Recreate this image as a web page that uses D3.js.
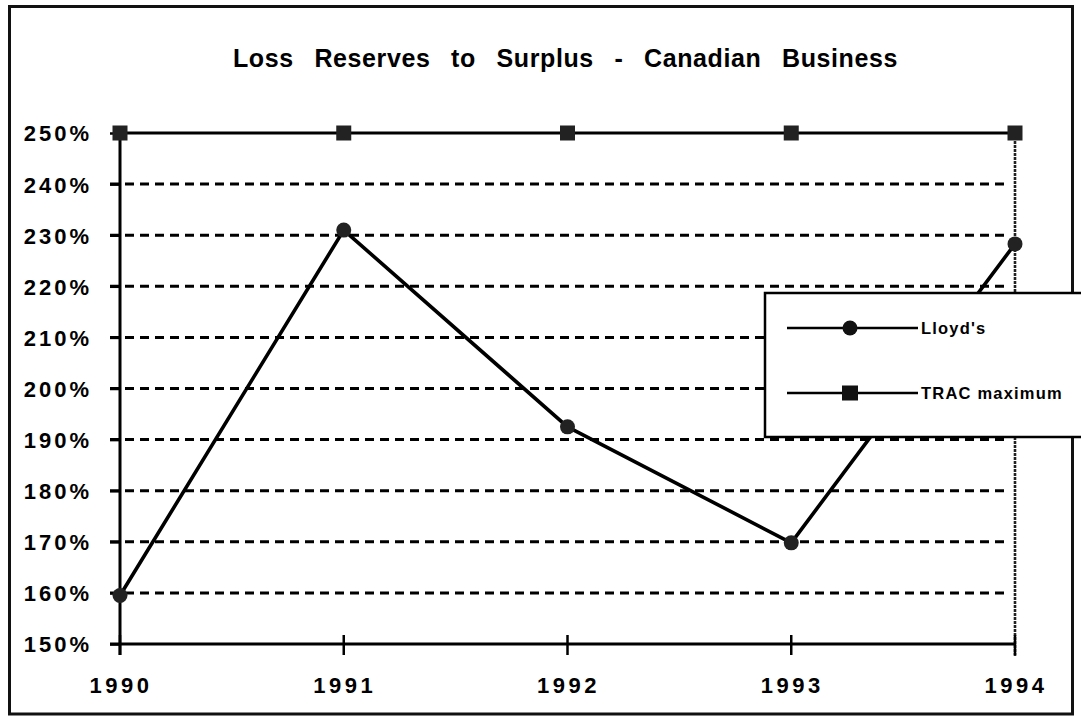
<!DOCTYPE html>
<html>
<head>
<meta charset="utf-8">
<script src="https://cdn.jsdelivr.net/npm/d3@7"></script>
<style>
  html, body { margin: 0; padding: 0; background: #fff; }
  svg { display: block; }
  text { font-family: "Liberation Sans", Arial, Helvetica, sans-serif; fill: #000; }
</style>
</head>
<body>
<svg id="chart" width="1081" height="718"></svg>
<script>
const title = "Loss Reserves to Surplus - Canadian Business";
const years = [1990, 1991, 1992, 1993, 1994];
const lloyds = [159.5, 231, 192.5, 169.8, 228.3];
const tracMax = [250, 250, 250, 250, 250];
const yTicks = [150, 160, 170, 180, 190, 200, 210, 220, 230, 240, 250];
const gridValues = [160, 170, 180, 190, 200, 210, 220, 230, 240];
const seriesNames = ["Lloyd's", "TRAC maximum"];

const svg = d3.select("#chart");
const x = d3.scaleLinear().domain([1990, 1994]).range([120, 1015]);
const y = d3.scaleLinear().domain([150, 250]).range([644, 133]);

// outer frame
svg.append("rect").attr("x", 9.5).attr("y", 6.5).attr("width", 1063).attr("height", 707.5)
  .attr("fill", "#fff").attr("stroke", "#111").attr("stroke-width", 3);

// title
const t = svg.append("text").attr("x", 233).attr("y", 67)
  .attr("font-size", 25).attr("font-weight", "bold").attr("letter-spacing", 0.6).text(title);
const w0 = t.node().getComputedTextLength();
const nSpaces = title.split(" ").length - 1;
t.attr("word-spacing", Math.max(0, (665 - w0) / nSpaces));

// gridlines
svg.append("g").selectAll("line").data(gridValues).join("line")
  .attr("x1", 110).attr("x2", 1007)
  .attr("y1", d => y(d)).attr("y2", d => y(d))
  .attr("stroke", "#000").attr("stroke-width", 3).attr("stroke-dasharray", "9,6");

// y axis
const yAxis = svg.append("g").attr("transform", "translate(120,0)")
  .call(d3.axisLeft(y).tickValues(yTicks).tickSize(10).tickSizeOuter(0).tickPadding(18)
    .tickFormat(d => d + "%"));
yAxis.select(".domain").remove();
yAxis.selectAll(".tick line").attr("stroke", "#000").attr("stroke-width", 2.5);
yAxis.selectAll(".tick text").attr("font-size", 22).attr("font-weight", "bold")
  .attr("letter-spacing", 3).attr("font-family", "Liberation Sans, Arial, sans-serif")
  .attr("fill", "#000").attr("dy", "0.36em");
svg.append("line").attr("x1", 120).attr("x2", 120).attr("y1", y(250)).attr("y2", 655)
  .attr("stroke", "#000").attr("stroke-width", 3);

// right vertical at 1994
svg.append("line").attr("x1", x(1994)).attr("x2", x(1994)).attr("y1", y(250)).attr("y2", 657)
  .attr("stroke", "#222").attr("stroke-width", 2.6).attr("stroke-dasharray", "3,1");

// x axis
svg.append("line").attr("x1", 110).attr("x2", x(1994)).attr("y1", y(150)).attr("y2", y(150))
  .attr("stroke", "#000").attr("stroke-width", 3);
svg.append("g").selectAll("line").data(years).join("line")
  .attr("x1", d => x(d)).attr("x2", d => x(d)).attr("y1", 635).attr("y2", 655)
  .attr("stroke", "#000").attr("stroke-width", 2.5);
svg.append("g").selectAll("text").data(years).join("text")
  .attr("x", d => x(d) + 1).attr("y", 693)
  .attr("text-anchor", "middle").attr("font-size", 22).attr("font-weight", "bold")
  .attr("letter-spacing", 3.5).text(d => d);

// series lines
const line = d3.line().x((d, i) => x(years[i])).y(d => y(d));
svg.append("path").datum(tracMax).attr("d", line)
  .attr("fill", "none").attr("stroke", "#000").attr("stroke-width", 2.8);
svg.append("path").datum(lloyds).attr("d", line)
  .attr("fill", "none").attr("stroke", "#000").attr("stroke-width", 3.6).attr("stroke-linejoin", "round");

// markers
svg.append("g").selectAll("rect").data(tracMax).join("rect")
  .attr("x", (d, i) => x(years[i]) - 7.5).attr("y", d => y(d) - 7.5)
  .attr("width", 15).attr("height", 15).attr("fill", "#222");
svg.append("g").selectAll("circle").data(lloyds).join("circle")
  .attr("cx", (d, i) => x(years[i])).attr("cy", d => y(d)).attr("r", 7.5).attr("fill", "#222");

// legend
const lg = svg.append("g");
lg.append("rect").attr("x", 765).attr("y", 293).attr("width", 340).attr("height", 144)
  .attr("fill", "#fff").attr("stroke", "#000").attr("stroke-width", 2.5);
const legendRows = [{name: seriesNames[0], y: 328, shape: "circle"}, {name: seriesNames[1], y: 393, shape: "square"}];
legendRows.forEach(r => {
  lg.append("line").attr("x1", 787).attr("x2", 918).attr("y1", r.y).attr("y2", r.y)
    .attr("stroke", "#000").attr("stroke-width", 2.5);
  if (r.shape === "circle") {
    lg.append("circle").attr("cx", 850).attr("cy", r.y).attr("r", 7.5).attr("fill", "#111");
  } else {
    lg.append("rect").attr("x", 842).attr("y", r.y - 7.5).attr("width", 16).attr("height", 15).attr("fill", "#111");
  }
  lg.append("text").attr("x", 921).attr("y", r.y + 6).attr("font-size", 16.5)
    .attr("font-weight", "bold").attr("letter-spacing", 1.2).text(r.name);
});
</script>
</body>
</html>
